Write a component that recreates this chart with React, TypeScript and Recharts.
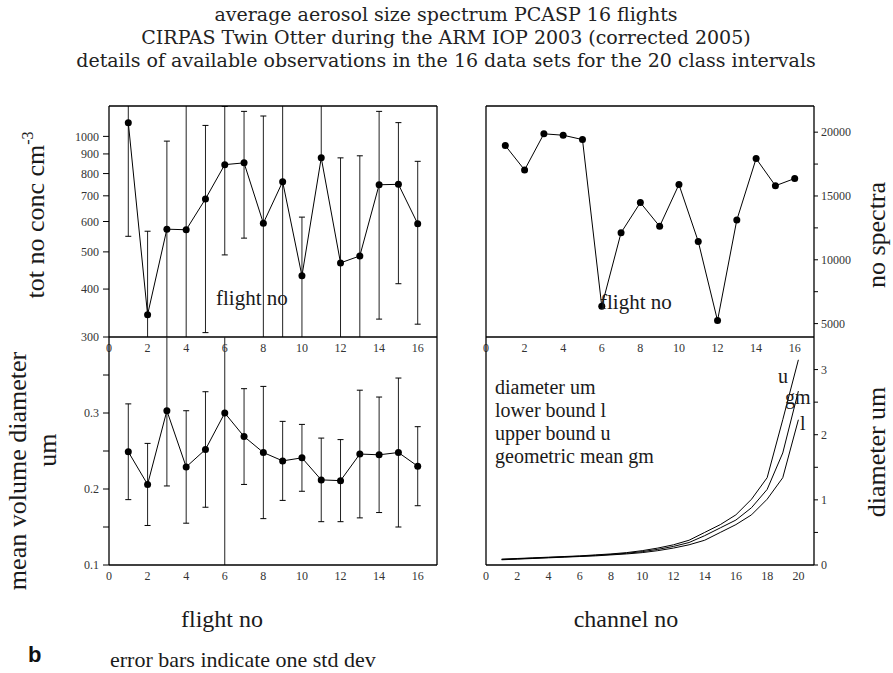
import React from 'react'
import { LineChart, Line, XAxis, YAxis } from 'recharts'

// flight statistics, PCASP on the Twin Otter
const flightNo = [1, 2, 3, 4, 5, 6, 7, 8, 9, 10, 11, 12, 13, 14, 15, 16]
const totConc = [1086, 343, 573, 571, 687, 844, 853, 594, 762, 433, 879, 468, 488, 748, 750, 592]
// ends of the one-std-dev bars (null = lower end not drawn on the log axis)
const totConcLow = [549, 120, 174, 20, 308, 491, 543, 58, 262, 250, null, 57, 86, 334, 413, 324]
const totConcHigh = [1623, 566, 972, 1300, 1068, 1197, 1162, 1130, 1262, 616, 1700, 879, 890, 1162, 1086, 861]
const spectraCount = [18950, 17040, 19870, 19760, 19420, 6360, 12120, 14480, 12620, 15900, 11440, 5235, 13120, 17930, 15800, 16370]
const meanVolDiam = [0.249, 0.206, 0.303, 0.229, 0.252, 0.300, 0.269, 0.248, 0.237, 0.241, 0.212, 0.211, 0.246, 0.245, 0.248, 0.230]
const meanVolDiamStd = [0.063, 0.054, 0.099, 0.074, 0.076, 0.21, 0.063, 0.087, 0.052, 0.044, 0.055, 0.054, 0.084, 0.076, 0.098, 0.052]

// channel boundaries
const channelNo = [1, 2, 3, 4, 5, 6, 7, 8, 9, 10, 11, 12, 13, 14, 15, 16, 17, 18, 19, 20]
const diamLower = [0.08, 0.09, 0.1, 0.11, 0.12, 0.13, 0.14, 0.155, 0.17, 0.19, 0.22, 0.26, 0.31, 0.38, 0.5, 0.62, 0.77, 1.01, 1.34, 2.23]
const diamGeoMean = [0.085, 0.095, 0.105, 0.115, 0.125, 0.135, 0.148, 0.162, 0.18, 0.205, 0.24, 0.285, 0.345, 0.45, 0.57, 0.69, 0.88, 1.16, 1.72, 2.67]
const diamUpper = [0.09, 0.1, 0.11, 0.12, 0.13, 0.14, 0.155, 0.17, 0.19, 0.22, 0.26, 0.31, 0.38, 0.5, 0.62, 0.77, 1.01, 1.34, 2.23, 3.15]

// ticks
const flightTicks = [0, 2, 4, 6, 8, 10, 12, 14, 16]
const flightMinorTicks = [0, 1, 2, 3, 4, 5, 6, 7, 8, 9, 10, 11, 12, 13, 14, 15, 16, 17]
const concTicks = [300, 400, 500, 600, 700, 800, 900, 1000]
const spectraTicks = [5000, 7500, 10000, 12500, 15000, 17500, 20000]
const mvdTicks = [0.1, 0.15, 0.2, 0.25, 0.3, 0.35]
const channelTicks = [0, 2, 4, 6, 8, 10, 12, 14, 16, 18, 20]
const channelMinorTicks = [0, 1, 2, 3, 4, 5, 6, 7, 8, 9, 10, 11, 12, 13, 14, 15, 16, 17, 18, 19, 20, 21]
const sizeTicks = [0, 0.5, 1, 1.5, 2, 2.5, 3]

const serif = 'Liberation Serif'
const ink = '#1a1a1a'
const axisLine = { stroke: '#000', strokeWidth: 1.3 }
const tickLine = { stroke: '#000', strokeWidth: 1 }

type Pt = { x: number; y: number | null; cap?: boolean }

function errorSegments(xs: number[], mid: number[], lo: (number | null)[], hi: number[]): Pt[] {
  const pts: Pt[] = []
  xs.forEach((x, i) => {
    const l = lo[i]
    pts.push(l == null ? { x, y: mid[i], cap: false } : { x, y: l, cap: true })
    pts.push({ x, y: hi[i], cap: true })
    pts.push({ x, y: null })
  })
  return pts
}

const concData = flightNo.map((x, i) => ({ x, v: totConc[i] }))
const concErr = errorSegments(flightNo, totConc, totConcLow, totConcHigh)
const spectraData = flightNo.map((x, i) => ({ x, v: spectraCount[i] }))
const mvdData = flightNo.map((x, i) => ({ x, v: meanVolDiam[i] }))
const mvdErr = errorSegments(
  flightNo,
  meanVolDiam,
  meanVolDiam.map((v, i) => v - meanVolDiamStd[i]),
  meanVolDiam.map((v, i) => v + meanVolDiamStd[i]),
)
const diamData = channelNo.map((x, i) => ({ x, l: diamLower[i], gm: diamGeoMean[i], u: diamUpper[i] }))

function makeTick(every: number, digits: number, dy: string) {
  return (props: any) => {
    const { x, y, payload, textAnchor } = props
    const v = payload.value as number
    const k = v / every
    if (Math.abs(k - Math.round(k)) > 1e-6) return <g />
    return (
      <text x={x} y={y} dy={dy} textAnchor={textAnchor} fontFamily={serif} fontSize={12} fill="#333">
        {v.toFixed(digits)}
      </text>
    )
  }
}

const ErrorCap = (props: any) => {
  const { cx, cy, payload, index } = props
  if (cy == null || !payload || !payload.cap) return <g key={`c${index}`} />
  return <line key={`c${index}`} x1={cx - 3} x2={cx + 3} y1={cy} y2={cy} stroke="#000" strokeWidth={1} />
}

const pointDot = { r: 3.5, fill: '#000', stroke: '#000', strokeWidth: 0 }

const W = 404
const topMargin = { top: 6, right: 6, bottom: 0, left: 0 }
const topMarginR = { top: 6, right: 0, bottom: 0, left: 6 }

function Panel({ left, top, children }: { left: number; top: number; children: React.ReactNode }) {
  return <div style={{ position: 'absolute', left, top }}>{children}</div>
}

function ConcPanel() {
  return (
    <LineChart width={W} height={259} margin={topMargin} data={concData}>
      <XAxis xAxisId="x" type="number" dataKey="x" domain={[0, 17]} allowDataOverflow ticks={flightTicks} interval={0}
        tickSize={0} tickMargin={6} tickLine={false} axisLine={axisLine} tick={makeTick(1, 0, '0.71em')} height={22} />
      <XAxis xAxisId="xb" type="number" orientation="bottom" mirror domain={[0, 17]} ticks={flightMinorTicks} interval={0}
        tick={false} tickSize={5} tickLine={tickLine} axisLine={false} />
      <XAxis xAxisId="xt" type="number" orientation="top" mirror domain={[0, 17]} ticks={flightMinorTicks} interval={0}
        tick={false} tickSize={5} tickLine={tickLine} axisLine={axisLine} />
      <YAxis yAxisId="y" type="number" scale="log" domain={[300, 1200]} allowDataOverflow ticks={concTicks} interval={0}
        width={70} tickSize={6} tickMargin={4} tickLine={tickLine} axisLine={axisLine} tick={makeTick(100, 0, '0.35em')} />
      <YAxis yAxisId="yr" type="number" orientation="right" mirror scale="log" domain={[300, 1200]} allowDataOverflow
        ticks={concTicks} interval={0} tick={false} tickSize={6} tickLine={tickLine} axisLine={axisLine} />
      <Line xAxisId="x" yAxisId="y" data={concErr} dataKey="y" stroke="#222" strokeWidth={1} connectNulls={false}
        dot={ErrorCap} activeDot={false} isAnimationActive={false} />
      <Line xAxisId="x" yAxisId="y" dataKey="v" stroke="#000" strokeWidth={1} dot={pointDot} activeDot={false}
        isAnimationActive={false} />
    </LineChart>
  )
}

function SpectraPanel() {
  return (
    <LineChart width={W} height={259} margin={topMarginR} data={spectraData}>
      <XAxis xAxisId="x" type="number" dataKey="x" domain={[0, 17]} allowDataOverflow ticks={flightTicks} interval={0}
        tickSize={0} tickMargin={6} tickLine={false} axisLine={axisLine} tick={makeTick(1, 0, '0.71em')} height={22} />
      <XAxis xAxisId="xb" type="number" orientation="bottom" mirror domain={[0, 17]} ticks={flightMinorTicks} interval={0}
        tick={false} tickSize={5} tickLine={tickLine} axisLine={false} />
      <XAxis xAxisId="xt" type="number" orientation="top" mirror domain={[0, 17]} ticks={flightMinorTicks} interval={0}
        tick={false} tickSize={5} tickLine={tickLine} axisLine={axisLine} />
      <YAxis yAxisId="y" type="number" orientation="right" domain={[3950, 22050]} allowDataOverflow ticks={spectraTicks}
        interval={0} width={70} tickSize={4} tickMargin={3} tickLine={tickLine} axisLine={axisLine}
        tick={makeTick(5000, 0, '0.35em')} />
      <YAxis yAxisId="yl" type="number" orientation="left" mirror domain={[3950, 22050]} allowDataOverflow
        ticks={spectraTicks} interval={0} tick={false} tickSize={6} tickLine={tickLine} axisLine={axisLine} />
      <Line xAxisId="x" yAxisId="y" dataKey="v" stroke="#000" strokeWidth={1} dot={pointDot} activeDot={false}
        isAnimationActive={false} />
    </LineChart>
  )
}

function MvdPanel() {
  return (
    <LineChart width={W} height={256} margin={topMargin} data={mvdData}>
      <XAxis xAxisId="x" type="number" dataKey="x" domain={[0, 17]} allowDataOverflow ticks={flightTicks} interval={0}
        tickSize={0} tickMargin={6} tickLine={false} axisLine={axisLine} tick={makeTick(1, 0, '0.71em')} height={22} />
      <XAxis xAxisId="xb" type="number" orientation="bottom" mirror domain={[0, 17]} ticks={flightMinorTicks} interval={0}
        tick={false} tickSize={5} tickLine={tickLine} axisLine={false} />
      <YAxis yAxisId="y" type="number" domain={[0.1, 0.4]} allowDataOverflow ticks={mvdTicks} interval={0}
        width={70} tickSize={6} tickMargin={4} tickLine={tickLine} axisLine={axisLine} tick={makeTick(0.1, 1, '0.35em')} />
      <YAxis yAxisId="yr" type="number" orientation="right" mirror domain={[0.1, 0.4]} allowDataOverflow
        ticks={mvdTicks} interval={0} tick={false} tickSize={6} tickLine={tickLine} axisLine={axisLine} />
      <Line xAxisId="x" yAxisId="y" data={mvdErr} dataKey="y" stroke="#222" strokeWidth={1} connectNulls={false}
        dot={ErrorCap} activeDot={false} isAnimationActive={false} />
      <Line xAxisId="x" yAxisId="y" dataKey="v" stroke="#000" strokeWidth={1} dot={pointDot} activeDot={false}
        isAnimationActive={false} />
    </LineChart>
  )
}

function DiameterPanel() {
  return (
    <LineChart width={W} height={256} margin={topMarginR} data={diamData}>
      <XAxis xAxisId="x" type="number" dataKey="x" domain={[0, 21]} allowDataOverflow ticks={channelTicks} interval={0}
        tickSize={0} tickMargin={6} tickLine={false} axisLine={axisLine} tick={makeTick(1, 0, '0.71em')} height={22} />
      <XAxis xAxisId="xb" type="number" orientation="bottom" mirror domain={[0, 21]} ticks={channelMinorTicks} interval={0}
        tick={false} tickSize={5} tickLine={tickLine} axisLine={false} />
      <YAxis yAxisId="y" type="number" orientation="right" domain={[0, 3.5]} allowDataOverflow ticks={sizeTicks}
        interval={0} width={70} tickSize={4} tickMargin={3} tickLine={tickLine} axisLine={axisLine}
        tick={makeTick(1, 0, '0.35em')} />
      <YAxis yAxisId="yl" type="number" orientation="left" mirror domain={[0, 3.5]} allowDataOverflow
        ticks={sizeTicks} interval={0} tick={false} tickSize={6} tickLine={tickLine} axisLine={axisLine} />
      {['l', 'gm', 'u'].map((k) => (
        <Line key={k} xAxisId="x" yAxisId="y" dataKey={k} stroke="#000" strokeWidth={1} dot={false} activeDot={false}
          isAnimationActive={false} />
      ))}
    </LineChart>
  )
}

const textStyle = { fontFamily: serif, fill: ink }

export default function App() {
  return (
    <div style={{ position: 'absolute', left: 0, top: 0, width: 893, height: 673, background: '#fff' }}>
      <Panel left={39} top={100}><ConcPanel /></Panel>
      <Panel left={480} top={100}><SpectraPanel /></Panel>
      <Panel left={39} top={331}><MvdPanel /></Panel>
      <Panel left={480} top={331}><DiameterPanel /></Panel>
      <svg width={893} height={673} style={{ position: 'absolute', left: 0, top: 0, pointerEvents: 'none' }}>
        <g fontFamily="DejaVu Serif" fill="#222" fontSize={19} textAnchor="middle">
          <text x={446} y={21}>average aerosol size spectrum PCASP 16 flights</text>
          <text x={446} y={44}>CIRPAS Twin Otter during the ARM IOP 2003 (corrected 2005)</text>
          <text x={446} y={67}>details of available observations in the 16 data sets for the 20 class intervals</text>
        </g>
        <g {...textStyle} fontSize={26} textAnchor="middle">
          <text x={44} y={215} transform="rotate(-90 44 215)">
            tot no conc cm<tspan fontSize={16} dy={-11}>-3</tspan>
          </text>
          <text x={885} y={235} transform="rotate(-90 885 235)">no spectra</text>
          <text x={885} y={452} transform="rotate(-90 885 452)">diameter um</text>
          <text x={26} y={471} transform="rotate(-90 26 471)">mean volume diameter</text>
          <text x={56} y={450} transform="rotate(-90 56 450)">um</text>
        </g>
        <g {...textStyle} fontSize={24} textAnchor="middle">
          <text x={222} y={627}>flight no</text>
          <text x={626} y={627}>channel no</text>
        </g>
        <text x={28} y={662} fontFamily="Liberation Sans" fontWeight="bold" fontSize={22} fill="#111">b</text>
        <text x={110} y={667} {...textStyle} fontSize={22}>error bars indicate one std dev</text>
        <g {...textStyle} fontSize={21}>
          <text x={216} y={305}>flight no</text>
          <text x={600} y={309}>flight no</text>
        </g>
        <g {...textStyle} fontSize={20}>
          <text x={495} y={394}>diameter um</text>
          <text x={495} y={417}>lower bound l</text>
          <text x={495} y={440}>upper bound u</text>
          <text x={495} y={463}>geometric mean gm</text>
          <text x={778} y={383}>u</text>
          <text x={785} y={404}>gm</text>
          <text x={800} y={430}>l</text>
        </g>
      </svg>
    </div>
  )
}
